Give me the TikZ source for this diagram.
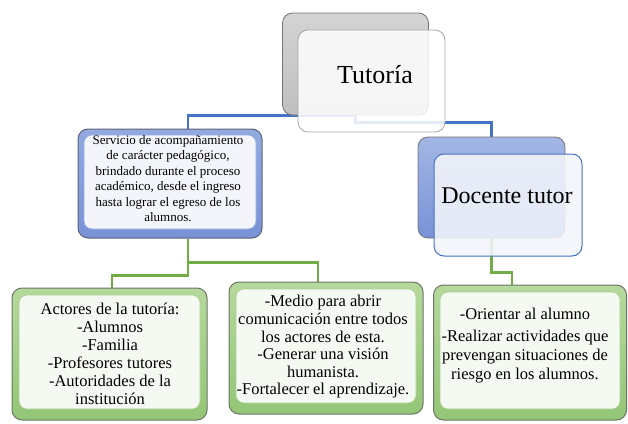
\documentclass[tikz,border=0pt]{standalone}
\usepackage{fontspec}
\setmainfont{Liberation Serif}
\newfontfamily\tnr{Liberation Serif}
\usetikzlibrary{backgrounds}
\definecolor{bluetop}{HTML}{93AAE0}
\definecolor{bluebot}{HTML}{7892D6}
\definecolor{blueedge}{HTML}{5B6478}
\definecolor{blueinner}{HTML}{F3F5FB}
\definecolor{greentop}{HTML}{B5D99C}
\definecolor{greenbot}{HTML}{93C676}
\definecolor{greenedge}{HTML}{6B7567}
\definecolor{greeninner}{HTML}{F4F9F1}
\definecolor{conblue}{HTML}{4472C4}
\definecolor{congreen}{HTML}{70AD47}
\tikzset{
bluebox/.style={rounded corners=10pt, draw=blueedge, line width=1pt, top color=bluetop, bottom color=bluebot}, % outer frame, blue
greenbox/.style={rounded corners=10pt, draw=greenedge, line width=1pt, top color=greentop, bottom color=greenbot}, % outer frame, green
innerblue/.style={rounded corners=8pt, draw=conblue!60, line width=0.6pt, fill=blueinner}, % white panel inside
innergreen/.style={rounded corners=8pt, draw=congreen!60, line width=0.6pt, fill=greeninner},
grayback/.style={rounded corners=10pt, draw=black!55, line width=0.8pt, top color=black!17, bottom color=black!25}, % back card of Tutoria
grayfront/.style={rounded corners=10pt, draw=black!35, line width=0.8pt, fill=white, fill opacity=0.85}, % front card, see-through
blueback/.style={rounded corners=10pt, draw=black!55, line width=0.8pt, top color=bluetop!85, bottom color=bluebot},
bluefront/.style={rounded corners=10pt, draw=conblue, line width=1pt, fill=blueinner, fill opacity=0.88},
txt/.style={align=center, inner sep=0pt},
bluecon/.style={draw=conblue, line width=2.4pt}, % connectors
greencon/.style={draw=congreen, line width=2.4pt},
}
\begin{document}
\begin{tikzpicture}[x=1pt, y=-1pt]
  \useasboundingbox (0,0) rectangle (628,423);
  % Tutoria
  \node[grayback, minimum width=146pt, minimum height=102pt] (tutb) at (355.5,64) {};
  \node[grayfront, minimum width=147pt, minimum height=102pt] (tut) at (371.5,81) {};
  \node[txt, font=\tnr\fontsize{26}{30}\selectfont] (tutt) at (375,75) {Tutoría};

  % Servicio
  \node[bluebox, minimum width=184pt, minimum height=109pt] (serv) at (170,183.5) {};
  \node[innerblue, minimum width=172pt, minimum height=94pt] (servi) at (170,182) {};
  \node[txt, font=\tnr\fontsize{13}{15.4}\selectfont] (servt) at (168,178.5) {Servicio de acompañamiento\\de carácter pedagógico,\\brindado durante el proceso\\académico, desde el ingreso\\hasta lograr el egreso de los\\alumnos.};

  % Docente tutor
  \node[blueback, minimum width=147pt, minimum height=101pt] (docb) at (491.5,187.5) {};
  \node[bluefront, minimum width=148pt, minimum height=102pt] (doc) at (508,205) {};
  \node[txt, font=\tnr\fontsize{24}{28}\selectfont] (doct) at (507,196) {Docente tutor};

  % bottom row
  \node[greenbox, minimum width=195pt, minimum height=132pt] (act) at (109.5,354) {};
  \node[innergreen, minimum width=181pt, minimum height=114pt] (acti) at (109.5,352) {};
  \node[txt, font=\tnr\fontsize{16.5}{18}\selectfont] (actt) at (110,354) {Actores de la tutoría:\\-Alumnos\\-Familia\\-Profesores tutores\\-Autoridades de la\\institución};

  \node[greenbox, minimum width=194pt, minimum height=132pt] (med) at (326,348) {};
  \node[innergreen, minimum width=180pt, minimum height=114pt] (medi) at (326,346) {};
  \node[txt, font=\tnr\fontsize{16.5}{17.6}\selectfont] (medt) at (323,347) {-Medio para abrir\\comunicación entre todos\\los actores de esta.\\-Generar una visión\\humanista.\\-Fortalecer el aprendizaje.};

  \node[greenbox, minimum width=193pt, minimum height=135pt] (ori) at (530,352.5) {};
  \node[innergreen, minimum width=180pt, minimum height=117pt] (orii) at (530,350.5) {};
  \node[txt, font=\tnr\fontsize{16.5}{19}\selectfont] (orit) at (525,345.5) {-Orientar al alumno\\[3pt]-Realizar actividades que\\prevengan situaciones de\\riesgo en los alumnos.};

  % connectors
  \begin{scope}[on background layer]
    \draw[bluecon] (tutb.south) -| ([xshift=18pt]serv.north);
    \draw[bluecon] (tutb.south) -- ++(0,7) -| (docb.north);
    \draw[greencon] ([xshift=18pt]serv.south) -- ++(0,24) -| ([xshift=-8pt]med.north);
    \draw[greencon] ([xshift=18pt]serv.south) -- ++(0,37) -| ([xshift=2.5pt]act.north);
    \draw[greencon] (docb.south) -- ++(0,34) -| ([xshift=-18pt]ori.north);
  \end{scope}
\end{tikzpicture}
\end{document}
